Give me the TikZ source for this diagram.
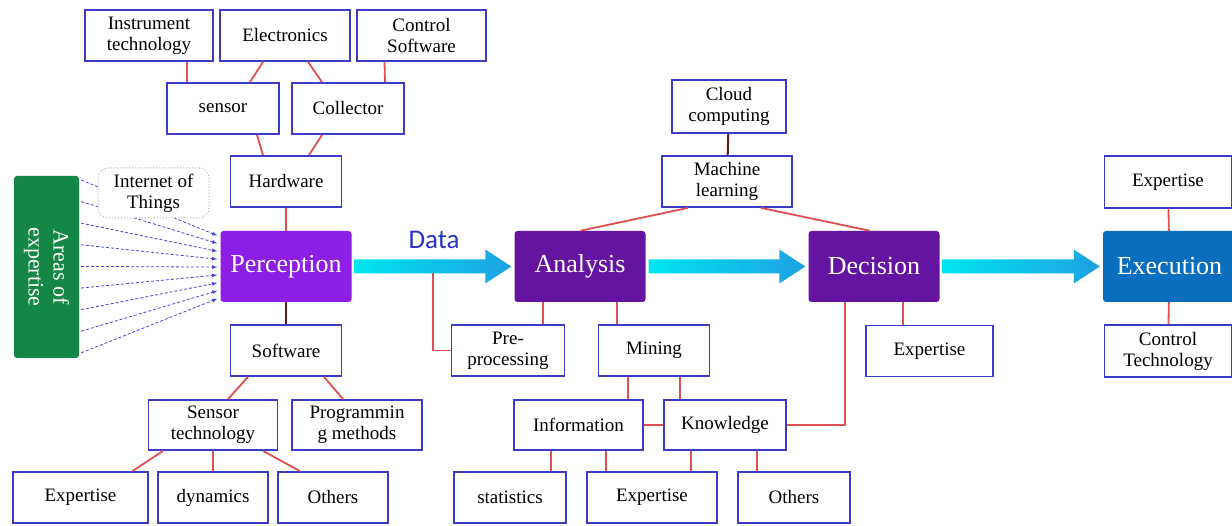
\documentclass[tikz,border=0pt]{standalone}
\usepackage{fontspec}
\setmainfont{Liberation Serif}
\newfontfamily\datafont{Carlito}
\usepackage{xcolor}
\usepackage{tikz}
\usetikzlibrary{arrows, positioning, backgrounds, calc, shapes}

\definecolor{boxblue}{RGB}{60,60,200}
\definecolor{linkred}{RGB}{225,80,80}
\definecolor{linkdark}{RGB}{90,30,30}
\definecolor{percepviolet}{RGB}{140,30,230}
\definecolor{stagepurple}{RGB}{100,20,160}
\definecolor{execblue}{RGB}{10,110,190}
\definecolor{areagreen}{RGB}{20,135,70}
\definecolor{arrowcyan}{RGB}{0,230,240}
\definecolor{arrowblue}{RGB}{30,160,225}
\definecolor{datablue}{RGB}{40,50,200}
\definecolor{fanblue}{RGB}{70,70,220}

\tikzstyle{infobox} = [draw=boxblue, line width=1.8pt, fill=white, minimum height=51pt, align=center, inner sep=2pt, font=\fontsize{19}{21}\selectfont]
\tikzstyle{stage} = [rounded corners=3pt, minimum width=131pt, minimum height=71pt, text=white, font=\fontsize{26}{30}\selectfont]
\tikzstyle{link} = [draw=linkred, line width=1.8pt]
\tikzstyle{stem} = [draw=linkdark, line width=2pt]
\tikzstyle{fan} = [draw=fanblue, densely dashed, line width=0.8pt, ->, >=latex]

% shaded flow arrow between two stages
\newcommand{\flowarrow}[2]{%
  \shade[left color=arrowcyan, right color=arrowblue]
    ($(#1.east)+(3,-7)$) -- ($(#2.west)+(-29,-7)$) -- ($(#2.west)+(-29,-17)$)
    -- ($(#2.west)+(-3,0)$) -- ($(#2.west)+(-29,17)$) -- ($(#2.west)+(-29,7)$)
    -- ($(#1.east)+(3,7)$) -- cycle;}

\begin{document}
\begin{tikzpicture}[x=1pt, y=-1pt]

\useasboundingbox (0,0) rectangle (1232,526);

% perception branch
\node [infobox, minimum width=128pt] (instr) at (149,35.5) {Instrument\\technology};
\node [infobox, minimum width=130pt] (elec) at (285,35.5) {Electronics};
\node [infobox, minimum width=129pt] (ctrlsw) at (421.5,35.5) {Control\\Software};
\node [infobox, minimum width=112pt] (sensor) at (223,108.5) {sensor};
\node [infobox, minimum width=112pt] (collector) at (348,108.5) {Collector};
\node [infobox, minimum width=111pt] (hardware) at (286,181.5) {Hardware};
\node [infobox, minimum width=111pt, minimum height=50pt, draw=gray!60, line width=1pt, dotted, rounded corners=10pt] (iot) at (153.5,193) {Internet of\\Things};
\node [fill=areagreen, rounded corners=3pt, minimum width=182pt, minimum height=65pt, rotate=-90, text=white, align=center, font=\fontsize{22}{25}\selectfont] (areas) at (46.5,267) {Areas of\\expertise};
\node [stage, fill=percepviolet] (percep) at (286,266.5) {Perception};
\node [infobox, minimum width=111pt] (software) at (286,350.5) {Software};
\node [infobox, minimum width=129pt, minimum height=50pt] (sensortech) at (213,425) {Sensor\\technology};
\node [infobox, minimum width=130pt, minimum height=50pt] (program) at (357,425) {Programmin\\g methods};
\node [infobox, minimum width=135pt] (expert1) at (80.5,497.5) {Expertise};
\node [infobox, minimum width=110pt] (dynamics) at (213,497.5) {dynamics};
\node [infobox, minimum width=110pt] (others1) at (333,497.5) {Others};

% analysis and decision
\node [text=datablue, font=\datafont\fontsize{27}{30}\selectfont] (data) at (434,240) {Data};
\node [stage, fill=stagepurple] (analysis) at (580,266.5) {Analysis};
\node [stage, fill=stagepurple] (decision) at (874,266.5) {Decision};
\node [infobox, minimum width=114pt, minimum height=53pt] (cloud) at (729,106.5) {Cloud\\computing};
\node [infobox, minimum width=130pt] (ml) at (727,181.5) {Machine\\learning};
\node [infobox, minimum width=113pt] (preproc) at (508,350.5) {Pre-\\processing};
\node [infobox, minimum width=111pt] (mining) at (654,350.5) {Mining};
\node [infobox, minimum width=129pt, minimum height=50pt] (info) at (578.5,425) {Information};
\node [infobox, minimum width=122pt, minimum height=50pt] (knowledge) at (725,425) {Knowledge};
\node [infobox, minimum width=112pt] (stats) at (510,497.5) {statistics};
\node [infobox, minimum width=130pt] (expert2) at (652,497.5) {Expertise};
\node [infobox, minimum width=112pt] (others2) at (794,497.5) {Others};
\node [infobox, minimum width=127pt] (expert3) at (929.5,351) {Expertise};

% execution
\node [stage, fill=execblue, minimum width=133pt] (execution) at (1169.5,266.5) {Execution};
\node [infobox, minimum width=127pt, minimum height=52pt] (expert4) at (1168,182) {Expertise};
\node [infobox, minimum width=127pt, minimum height=52pt] (ctrltech) at (1168,351) {Control\\Technology};

% connectors
\draw [link] ([xshift=38pt]instr.south) -- ([xshift=-36pt]sensor.north);
\draw [link] ([xshift=-22pt]elec.south) -- ([xshift=27pt]sensor.north);
\draw [link] ([xshift=23pt]elec.south) -- ([xshift=-26pt]collector.north);
\draw [link] ([xshift=-37pt]ctrlsw.south) -- ([xshift=37pt]collector.north);
\draw [link] ([xshift=34pt]sensor.south) -- ([xshift=-23pt]hardware.north);
\draw [link] ([xshift=-26pt]collector.south) -- ([xshift=23pt]hardware.north);
\draw [link] (hardware) -- (percep);
\draw [stem] (percep) -- (software);
\draw [link] ([xshift=-38pt]software.south) -- ([xshift=15pt]sensortech.north);
\draw [link] ([xshift=38pt]software.south) -- ([xshift=-14pt]program.north);
\draw [link] ([xshift=-50pt]sensortech.south) -- ([xshift=52pt]expert1.north);
\draw [link] (sensortech) -- (dynamics);
\draw [link] ([xshift=50pt]sensortech.south) -- ([xshift=-33pt]others1.north);

\draw [stem] (cloud) -- (ml);
\draw [link] ([xshift=-39pt]ml.south) -- (analysis.north);
\draw [link] ([xshift=34pt]ml.south) -- ([xshift=-4pt]decision.north);
\draw [link] (preproc.west) -| ($(percep.east)!0.5!(analysis.west)$);
\draw [link] ([xshift=-37pt]analysis.south) -- ([xshift=35pt]preproc.north);
\draw [link] ([xshift=37pt]analysis.south) -- ([xshift=-37pt]mining.north);
\draw [link] ([xshift=-26pt]mining.south) -- ([xshift=49.5pt]info.north);
\draw [link] ([xshift=26pt]mining.south) -- ([xshift=-45pt]knowledge.north);
\draw [link] (info) -- (knowledge);
\draw [link] ([xshift=-29pt]decision.south) |- (knowledge.east);
\draw [link] ([xshift=29pt]decision.south) -- ([xshift=-26.5pt]expert3.north);
\draw [link] ([xshift=-27.5pt]info.south) -- ([xshift=41pt]stats.north);
\draw [link] ([xshift=27.5pt]info.south) -- ([xshift=-46pt]expert2.north);
\draw [link] ([xshift=-34pt]knowledge.south) -- ([xshift=39pt]expert2.north);
\draw [link] ([xshift=32pt]knowledge.south) -- ([xshift=-37pt]others2.north);
\draw [link] (expert4) -- (execution);
\draw [link] (execution) -- (ctrltech);

\flowarrow{percep}{analysis}
\flowarrow{analysis}{decision}
\flowarrow{decision}{execution}

\begin{scope}[on background layer]
\fill [white] (0,0) rectangle (1232,526);
\foreach \i in {0,...,8}
  \draw [fan] ($(areas.north)+(2,-87+\i*21.6)$) -- ($(percep.west)+(-3,-31+\i*7.9)$);
\end{scope}

\end{tikzpicture}
\end{document}
